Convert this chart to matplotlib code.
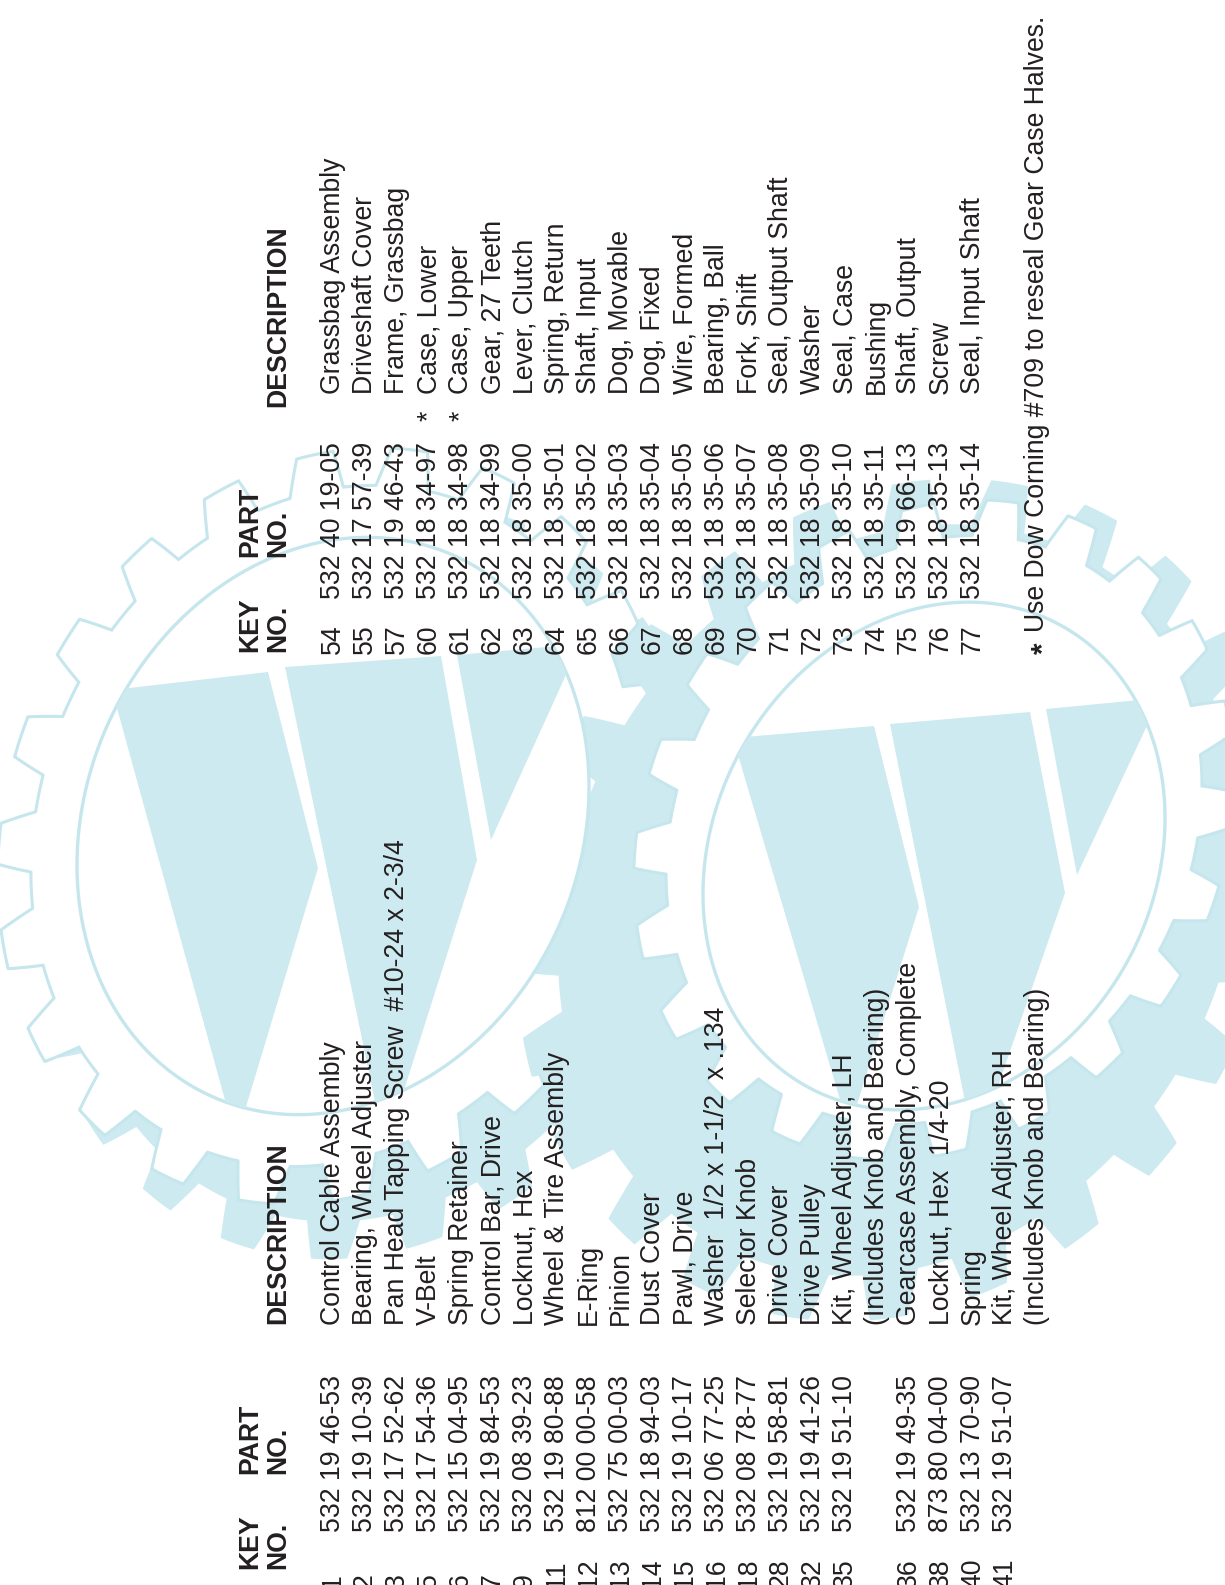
import numpy as np
import matplotlib.pyplot as plt
from matplotlib.patches import Polygon

plt.rcParams['font.family'] = ['Liberation Sans', 'DejaVu Sans']

# ---- parts list data ----
left_keys = ['1', '2', '3', '5', '6', '7', '9', '11', '12', '13', '14', '15', '16',
             '18', '28', '32', '35', '', '36', '38', '40', '41', '']
left_parts = ['532 19 46-53', '532 19 10-39', '532 17 52-62', '532 17 54-36',
              '532 15 04-95', '532 19 84-53', '532 08 39-23', '532 19 80-88',
              '812 00 00-58', '532 75 00-03', '532 18 94-03', '532 19 10-17',
              '532 06 77-25', '532 08 78-77', '532 19 58-81', '532 19 41-26',
              '532 19 51-10', '', '532 19 49-35', '873 80 04-00', '532 13 70-90',
              '532 19 51-07', '']
left_desc = ['Control Cable Assembly', 'Bearing, Wheel Adjuster',
             'Pan Head Tapping Screw  #10-24 x 2-3/4', 'V-Belt', 'Spring Retainer',
             'Control Bar, Drive', 'Locknut, Hex', 'Wheel & Tire Assembly', 'E-Ring',
             'Pinion', 'Dust Cover', 'Pawl, Drive', 'Washer  1/2 x 1-1/2  x .134',
             'Selector Knob', 'Drive Cover', 'Drive Pulley', 'Kit, Wheel Adjuster, LH',
             '(Includes Knob and Bearing)', 'Gearcase Assembly, Complete',
             'Locknut, Hex  1/4-20', 'Spring', 'Kit, Wheel Adjuster, RH',
             '(Includes Knob and Bearing)']

right_keys = ['54', '55', '57', '60', '61', '62', '63', '64', '65', '66', '67', '68',
              '69', '70', '71', '72', '73', '74', '75', '76', '77']
right_parts = ['532 40 19-05', '532 17 57-39', '532 19 46-43', '532 18 34-97',
               '532 18 34-98', '532 18 34-99', '532 18 35-00', '532 18 35-01',
               '532 18 35-02', '532 18 35-03', '532 18 35-04', '532 18 35-05',
               '532 18 35-06', '532 18 35-07', '532 18 35-08', '532 18 35-09',
               '532 18 35-10', '532 18 35-11', '532 19 66-13', '532 18 35-13',
               '532 18 35-14']
right_desc = ['Grassbag Assembly', 'Driveshaft Cover', 'Frame, Grassbag', 'Case, Lower',
              'Case, Upper', 'Gear, 27 Teeth', 'Lever, Clutch', 'Spring, Return',
              'Shaft, Input', 'Dog, Movable', 'Dog, Fixed', 'Wire, Formed',
              'Bearing, Ball', 'Fork, Shift', 'Seal, Output Shaft', 'Washer',
              'Seal, Case', 'Bushing', 'Shaft, Output', 'Screw', 'Seal, Input Shaft']
right_star = ['60', '61']

footnote = 'Use Dow Corning #709 to reseal Gear Case Halves.'

# ---- background logo geometry (page pixels) ----
gear1 = dict(cx=333, cy=826, a=256, d=-39, e=286)
gear2 = dict(cx=934, cy=856, a=231, d=-38, e=251)
wedges1 = [[(112, 690), (268, 672), (318, 868), (236, 1140)],
           [(285, 667), (441, 656), (477, 860), (385, 1150)],
           [(457, 655), (580, 644), (491, 840)]]
wedges2 = [[(733, 738), (874, 726), (919, 907), (849, 1130)],
           [(890, 724), (1030, 712), (1065, 893), (975, 1152)],
           [(1046, 709), (1160, 698), (1077, 875)]]

FILL = '#cdeaf0'
LINE = '#c6e6ed'
INK = '#231f20'
FS = 19.2


def ellipse_xy(g, r, dx=0, dy=0, n=600):
    t = np.linspace(0, 2 * np.pi, n)
    u, v = r * np.cos(t), r * np.sin(t)
    return np.column_stack([g['cx'] + dx + g['a'] * u,
                            g['cy'] + dy + g['d'] * u + g['e'] * v])


def gear_xy(g, r_root, r_tip, teeth, phase, dx=0, dy=0):
    t = np.linspace(0, 2 * np.pi, 5000)
    f = (t / (2 * np.pi) * teeth + phase) % 1
    r = np.interp(f, [0, 0.12, 0.5, 0.62, 1.0], [r_root, r_tip, r_tip, r_root, r_root])
    u, v = r * np.cos(t), r * np.sin(t)
    return np.column_stack([g['cx'] + dx + g['a'] * u,
                            g['cy'] + dy + g['d'] * u + g['e'] * v])


fig = plt.figure(figsize=(12.25, 15.85), dpi=100)
ax = fig.add_axes([0, 0, 1, 1])
ax.set_xlim(0, 1225)
ax.set_ylim(1585, 0)
ax.axis('off')

# shadow gears and outline gears
ax.add_patch(Polygon(gear_xy(gear1, 1.18, 1.31, 22, 0.35, dx=40, dy=55),
                     closed=True, fc=FILL, ec='none', zorder=1))
ax.add_patch(Polygon(gear_xy(gear1, 1.18, 1.31, 22, 0.0),
                     closed=True, fc='white', ec=LINE, lw=2.2, zorder=2))
ax.add_patch(Polygon(gear_xy(gear2, 1.48, 1.66, 24, 0.2, dx=-34, dy=44),
                     closed=True, fc=FILL, ec='none', zorder=3))
ax.add_patch(Polygon(gear_xy(gear2, 1.16, 1.30, 22, 0.0, dy=-26),
                     closed=True, fc='white', ec=LINE, lw=2.2, zorder=4))

# inner rings with the V wedges
for g, wedges in [(gear1, wedges1), (gear2, wedges2)]:
    ring = Polygon(ellipse_xy(g, 1.0), closed=True, fc='white', ec=LINE,
                   lw=2.4, zorder=5)
    ax.add_patch(ring)
    for w in wedges:
        p = Polygon(w, closed=True, fc=FILL, ec='none', zorder=6)
        ax.add_patch(p)
        p.set_clip_path(ring)


def vtext(x, y, s, **kw):
    ax.text(x, y, s, rotation=90, rotation_mode='anchor', ha='left',
            va='baseline', fontsize=FS, color=INK, zorder=10, **kw)


# headers
for y_key, y_part, y_desc in [(1569, 1474, 1324), (652, 557, 407)]:
    vtext(257, y_key, 'KEY', fontweight='bold')
    vtext(285, y_key, 'NO.', fontweight='bold')
    vtext(257, y_part, 'PART', fontweight='bold')
    vtext(285, y_part, 'NO.', fontweight='bold')
    vtext(285, y_desc, 'DESCRIPTION', fontweight='bold')

# left table
for i, (k, p, d) in enumerate(zip(left_keys, left_parts, left_desc)):
    xb = 340 + 32 * i
    vtext(xb, 1588, k)
    vtext(xb, 1532, p)
    vtext(xb, 1325, d)

# right table
for i, (k, p, d) in enumerate(zip(right_keys, right_parts, right_desc)):
    xb = 340 + 32 * i
    vtext(xb, 654, k)
    vtext(xb, 599, p)
    vtext(xb, 394, d)
    if k in right_star:
        vtext(xb, 421, '*')

# footnote
xf = 340 + 32 * 22
ax.text(xf - 3, 654, '*', rotation=90, rotation_mode='anchor', ha='left',
        va='center_baseline', fontsize=FS + 2, fontweight='bold', color=INK, zorder=10)
vtext(xf, 632, footnote)

fig.savefig('out.png', dpi=100, facecolor='white')
